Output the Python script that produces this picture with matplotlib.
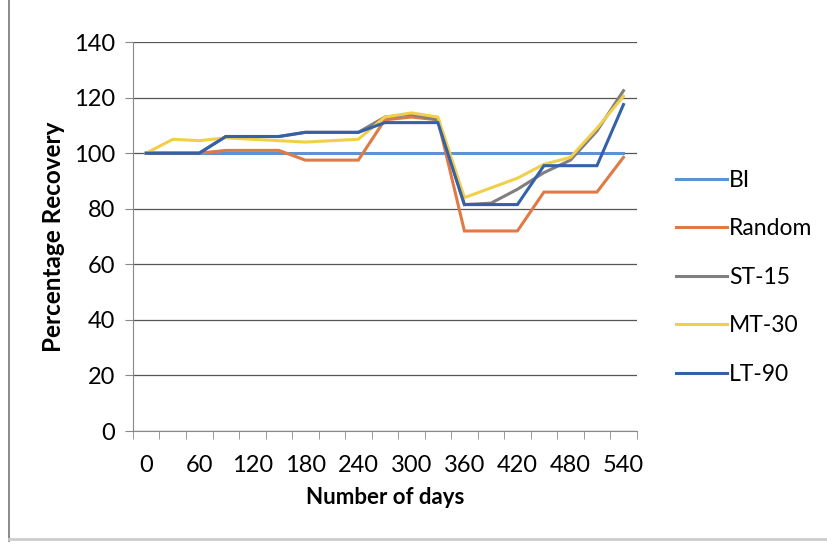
import matplotlib.pyplot as plt
from matplotlib.lines import Line2D

# Days are Excel category positions (one point every 30 days)
days = list(range(0, 541, 30))

bi = [100] * 19
random_ = [100, 100, 100, 101, 101, 101, 97.5, 97.5, 97.5, 112, 113, 112,
           72, 72, 72, 86, 86, 86, 98.5]
st15 = [100, 100, 100, 106, 106, 106, 107.5, 107.5, 107.5, 113, 114, 112,
        81.5, 82, 87, 93, 97.5, 108, 122.5]
mt30 = [100, 105, 104.5, 105.5, 105, 104.5, 104, 104.5, 105, 113, 114.5, 113,
        84, 87.5, 91, 96, 98.5, 109, 120.5]
lt90 = [100, 100, 100, 106, 106, 106, 107.5, 107.5, 107.5, 111, 111, 111,
        81.5, 81.5, 81.5, 95.5, 95.5, 95.5, 117.5]

series_names = ["BI", "Random", "ST-15", "MT-30", "LT-90"]
series_colors = ["#5b93d3", "#e07a45", "#7f7f7f", "#f2cf4a", "#3461a8"]

plt.rcParams['font.family'] = ['Lato', 'DejaVu Sans']

fig = plt.figure(figsize=(8.28, 5.46), dpi=100)
ax = fig.add_axes([0.1606, 0.2106, 0.6084, 0.7124])

pos = list(range(len(days)))
for vals, name, col in zip([bi, random_, st15, mt30, lt90], series_names, series_colors):
    ax.plot(pos, vals, color=col, lw=2.2, label=name, solid_joinstyle='miter')

ax.set_xlim(-0.5, len(days) - 0.5)
ax.set_ylim(0, 140)
ax.set_yticks(range(0, 141, 20))
ax.yaxis.grid(True, color="#555555", lw=0.9)
ax.set_axisbelow(True)

# labels every other category, tick marks between categories
ax.set_xticks(pos[::2])
ax.set_xticklabels([str(d) for d in days[::2]],
                   family=['Liberation Sans Narrow', 'Lato'], fontsize=17)
ax.set_xticks([p - 0.5 for p in pos] + [len(pos) - 0.5], minor=True)
ax.tick_params(axis='x', which='major', length=0, pad=17)
ax.tick_params(axis='x', which='minor', length=6, color="#888888", direction='out')
ax.tick_params(axis='y', length=6, color="#888888", labelsize=17, pad=7)

for s in ["top", "right"]:
    ax.spines[s].set_visible(False)
ax.spines["left"].set_color("#888888")
ax.spines["bottom"].set_color("#888888")

ax.set_ylabel("Percentage Recovery", fontsize=17.5, fontweight='bold', labelpad=6)
ax.set_xlabel("Number of days", fontsize=16, fontweight='bold', labelpad=8)

ax.legend(loc='center left', bbox_to_anchor=(1.038, 0.395), frameon=False,
          fontsize=16.5, handlelength=2.2, handletextpad=0.1, labelspacing=1.2)

# scanned frame edges
fig.add_artist(Line2D([0.011, 0.011], [0.01, 1.0], color="#777777", lw=1.2))
fig.add_artist(Line2D([0.011, 1.0], [0.012, 0.012], color="#cccccc", lw=2))

fig.savefig("out.png", dpi=100)
